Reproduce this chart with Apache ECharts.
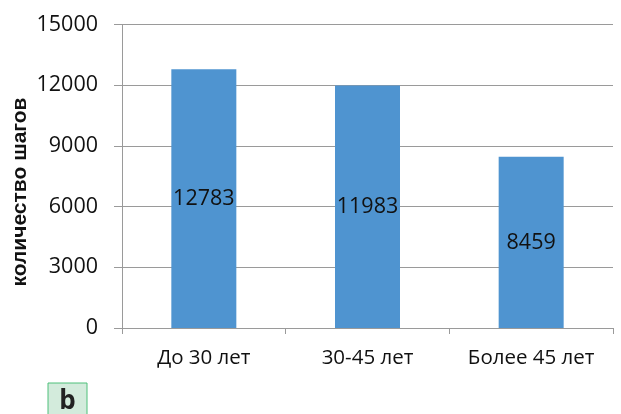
<!DOCTYPE html>
<html>
<head>
<meta charset="utf-8">
<script src="https://cdn.jsdelivr.net/npm/echarts@6/dist/echarts.min.js"></script>
<style>
  html, body { margin: 0; padding: 0; background: #fff; }
  #chart { width: 621px; height: 414px; }
</style>
</head>
<body>
<div id="chart"></div>
<script>
// Average daily step count by age group
const categories = ['До 30 лет', '30-45 лет', 'Более 45 лет'];
const steps = [12783, 11983, 8459];
const yTicks = [0, 3000, 6000, 9000, 12000, 15000];
const yTitle = 'количество шагов';
const panelLetter = 'b';

const chart = echarts.init(document.getElementById('chart'), null, { renderer: 'canvas' });

chart.setOption({
  animation: false,
  backgroundColor: '#ffffff',
  grid: { left: 122, right: 8, top: 24.5, bottom: 86 },
  xAxis: {
    type: 'category',
    data: categories,
    axisLine: { lineStyle: { color: '#9a9a9a', width: 1 } },
    axisTick: { show: true, length: 6, lineStyle: { color: '#9a9a9a' } },
    axisLabel: {
      interval: 0,
      hideOverlap: false,
      margin: 20,
      fontFamily: 'Open Sans',
      fontSize: 20.5,
      color: '#111'
    }
  },
  yAxis: {
    type: 'value',
    min: yTicks[0],
    max: yTicks[yTicks.length - 1],
    interval: yTicks[1] - yTicks[0],
    axisLine: { show: true, lineStyle: { color: '#9a9a9a', width: 1 } },
    axisTick: { show: true, length: 8, lineStyle: { color: '#9a9a9a' } },
    splitLine: { show: true, lineStyle: { color: '#9a9a9a', width: 1 } },
    axisLabel: {
      margin: 24,
      fontFamily: 'Open Sans',
      fontSize: 21.5,
      color: '#111',
      formatter: (v) => String(v)
    }
  },
  series: [{
    type: 'bar',
    data: steps,
    barWidth: 65,
    itemStyle: { color: '#4f94d0' },
    label: {
      show: true,
      position: 'inside',
      fontFamily: 'Open Sans',
      fontSize: 21.5,
      color: '#111'
    }
  }],
  graphic: [
    {
      type: 'text',
      x: 20,
      y: 192,
      rotation: Math.PI / 2,
      style: {
        text: yTitle,
        fontFamily: 'Liberation Sans',
        fontWeight: 'bold',
        fontSize: 21,
        fill: '#111',
        align: 'center',
        verticalAlign: 'middle'
      }
    },
    {
      type: 'rect',
      shape: { x: 48, y: 383, width: 39, height: 40 },
      style: { fill: '#d3ebdc', stroke: '#4fc07a', lineWidth: 1 }
    },
    {
      type: 'text',
      x: 67.5,
      y: 402,
      style: {
        text: panelLetter,
        fontFamily: 'Open Sans',
        fontWeight: 'bold',
        fontSize: 26,
        fill: '#222',
        align: 'center',
        verticalAlign: 'middle'
      }
    }
  ]
});
</script>
</body>
</html>
